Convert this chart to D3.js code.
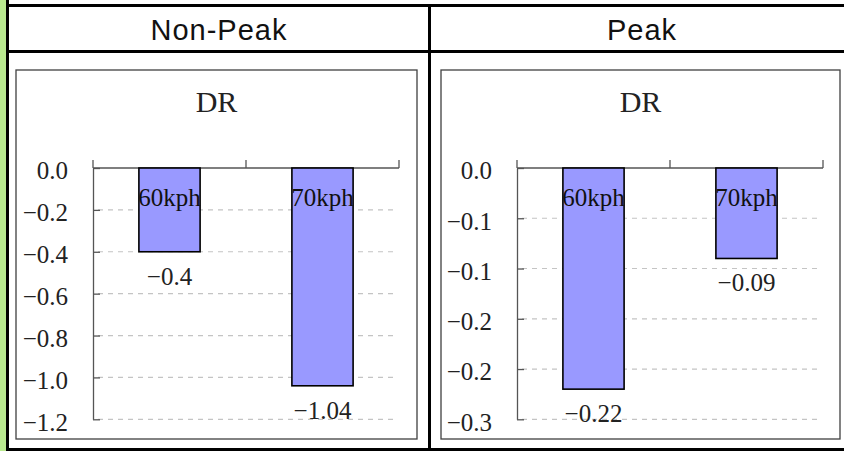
<!DOCTYPE html>
<html>
<head>
<meta charset="utf-8">
<script src="https://cdn.jsdelivr.net/npm/d3@7"></script>
<style>
  html, body { margin: 0; padding: 0; background: #fff; }
  svg { display: block; }
</style>
</head>
<body>
<svg id="chart" width="844" height="451"></svg>
<script>
// Panel headings and bar categories
const panelTitles = ["Non-Peak", "Peak"];
const chartTitle = "DR";
const categories = ["60kph", "70kph"];

// DR values per category
const nonPeakValues = [-0.4, -1.04];
const peakValues = [-0.22, -0.09];

// Value-axis ticks and their printed labels
const nonPeakTicks = [0, -0.2, -0.4, -0.6, -0.8, -1.0, -1.2];
const nonPeakTickLabels = ["0.0", "\u22120.2", "\u22120.4", "\u22120.6", "\u22120.8", "\u22121.0", "\u22121.2"];
const peakTicks = [0, -0.05, -0.1, -0.15, -0.2, -0.25];
const peakTickLabels = ["0.0", "\u22120.1", "\u22120.1", "\u22120.2", "\u22120.2", "\u22120.3"];

const svg = d3.select("#chart");
const serif = "'Liberation Serif', 'Times New Roman', serif";
const sans = "'Liberation Sans', Arial, sans-serif";

// ---- table frame ----
svg.append("rect").attr("x", 0).attr("y", 0).attr("width", 6).attr("height", 451).attr("fill", "#b9e98f");
svg.append("rect").attr("x", 6).attr("y", 0).attr("width", 3).attr("height", 451).attr("fill", "#000");
svg.append("rect").attr("x", 6).attr("y", 4).attr("width", 838).attr("height", 3).attr("fill", "#000");
svg.append("rect").attr("x", 6).attr("y", 50).attr("width", 838).attr("height", 3).attr("fill", "#000");
svg.append("rect").attr("x", 6).attr("y", 448).attr("width", 838).attr("height", 3).attr("fill", "#000");
svg.append("rect").attr("x", 428).attr("y", 4).attr("width", 3).attr("height", 447).attr("fill", "#000");

const columns = [{x0: 9, x1: 428}, {x0: 431, x1: 852}];
svg.selectAll("text.head")
  .data(panelTitles)
  .join("text")
  .attr("class", "head")
  .attr("x", (d, i) => (columns[i].x0 + columns[i].x1) / 2 + 0.5)
  .attr("y", 39.5)
  .attr("text-anchor", "middle")
  .attr("font-family", sans)
  .attr("font-size", 29)
  .attr("letter-spacing", 1)
  .attr("fill", "#111")
  .text(d => d);

// ---- one bar panel ----
function drawPanel(cfg) {
  const g = svg.append("g");

  g.append("rect")
    .attr("x", cfg.box.x).attr("y", cfg.box.y)
    .attr("width", cfg.box.w).attr("height", cfg.box.h)
    .attr("fill", "#fff").attr("stroke", "#404040").attr("stroke-width", 1.3);

  g.append("text")
    .attr("x", cfg.box.x + cfg.box.w / 2)
    .attr("y", 112.3)
    .attr("text-anchor", "middle")
    .attr("font-family", serif)
    .attr("font-size", 30)
    .attr("fill", "#222")
    .text(chartTitle);

  const y = d3.scaleLinear()
    .domain([cfg.ticks[cfg.ticks.length - 1], 0])
    .range([cfg.yBottom, cfg.yTop]);
  const x = d3.scaleBand()
    .domain(categories)
    .range([cfg.xLeft, cfg.xRight])
    .paddingInner(0).paddingOuter(0);

  // dashed gridlines below zero
  g.selectAll("line.grid")
    .data(cfg.ticks.filter(t => t !== 0))
    .join("line")
    .attr("class", "grid")
    .attr("x1", cfg.xLeft).attr("x2", cfg.xRight - 6)
    .attr("y1", d => y(d)).attr("y2", d => y(d))
    .attr("stroke", "#c4c4c4").attr("stroke-width", 1.2)
    .attr("stroke-dasharray", "5,5").attr("stroke-dashoffset", -5);

  // value axis: ticks point inward, labels at the left
  const yAxis = d3.axisLeft(y)
    .tickValues(cfg.ticks)
    .tickSizeInner(-7)
    .tickSizeOuter(0)
    .tickPadding(32)
    .tickFormat((d, i) => cfg.tickLabels[i]);
  const ya = g.append("g")
    .attr("transform", `translate(${cfg.xLeft},0)`)
    .call(yAxis);
  ya.select(".domain").attr("stroke", "#555").attr("stroke-width", 1.3);
  ya.selectAll(".tick line").attr("stroke", "#555").attr("stroke-width", 1.3);
  ya.selectAll(".tick text")
    .attr("x", -25)
    .attr("dy", 0)
    .attr("y", 10.8)
    .attr("font-family", serif)
    .attr("font-size", 25)
    .attr("fill", "#222");

  // category axis along zero with upward boundary ticks
  const bounds = [cfg.xLeft].concat(categories.map(c => x(c) + x.bandwidth()));
  g.append("line")
    .attr("x1", cfg.xLeft).attr("x2", cfg.xRight)
    .attr("y1", y(0)).attr("y2", y(0))
    .attr("stroke", "#555").attr("stroke-width", 1.3);
  g.selectAll("line.xtick")
    .data(bounds)
    .join("line")
    .attr("class", "xtick")
    .attr("x1", d => d).attr("x2", d => d)
    .attr("y1", y(0)).attr("y2", y(0) - 8)
    .attr("stroke", "#555").attr("stroke-width", 1.3);

  const bw = x.bandwidth() * 0.4;
  const cx = c => x(c) + x.bandwidth() / 2;

  g.selectAll("rect.bar")
    .data(cfg.values)
    .join("rect")
    .attr("class", "bar")
    .attr("x", (d, i) => cx(categories[i]) - bw / 2)
    .attr("y", y(0))
    .attr("width", bw)
    .attr("height", d => y(d) - y(0))
    .attr("fill", "#9999ff")
    .attr("stroke", "#000").attr("stroke-width", 1.6);

  // category names inside bars
  g.selectAll("text.cat")
    .data(categories)
    .join("text")
    .attr("class", "cat")
    .attr("x", d => cx(d))
    .attr("y", y(0) + 38)
    .attr("text-anchor", "middle")
    .attr("font-family", serif)
    .attr("font-size", 25)
    .attr("fill", "#111")
    .text(d => d);

  // value labels below bars
  const fmt = v => (v < 0 ? "\u2212" : "") + String(Math.abs(v));
  g.selectAll("text.val")
    .data(cfg.values)
    .join("text")
    .attr("class", "val")
    .attr("x", (d, i) => cx(categories[i]))
    .attr("y", d => y(d) + 33)
    .attr("text-anchor", "middle")
    .attr("font-family", serif)
    .attr("font-size", 25)
    .attr("fill", "#222")
    .text(d => fmt(d));
}

drawPanel({
  box: {x: 16, y: 70, w: 401, h: 369},
  xLeft: 93, xRight: 399, yTop: 168, yBottom: 419.3,
  values: nonPeakValues, ticks: nonPeakTicks, tickLabels: nonPeakTickLabels
});
drawPanel({
  box: {x: 441, y: 70, w: 399, h: 369},
  xLeft: 517, xRight: 823, yTop: 168, yBottom: 419.3,
  values: peakValues, ticks: peakTicks, tickLabels: peakTickLabels
});
</script>
</body>
</html>
